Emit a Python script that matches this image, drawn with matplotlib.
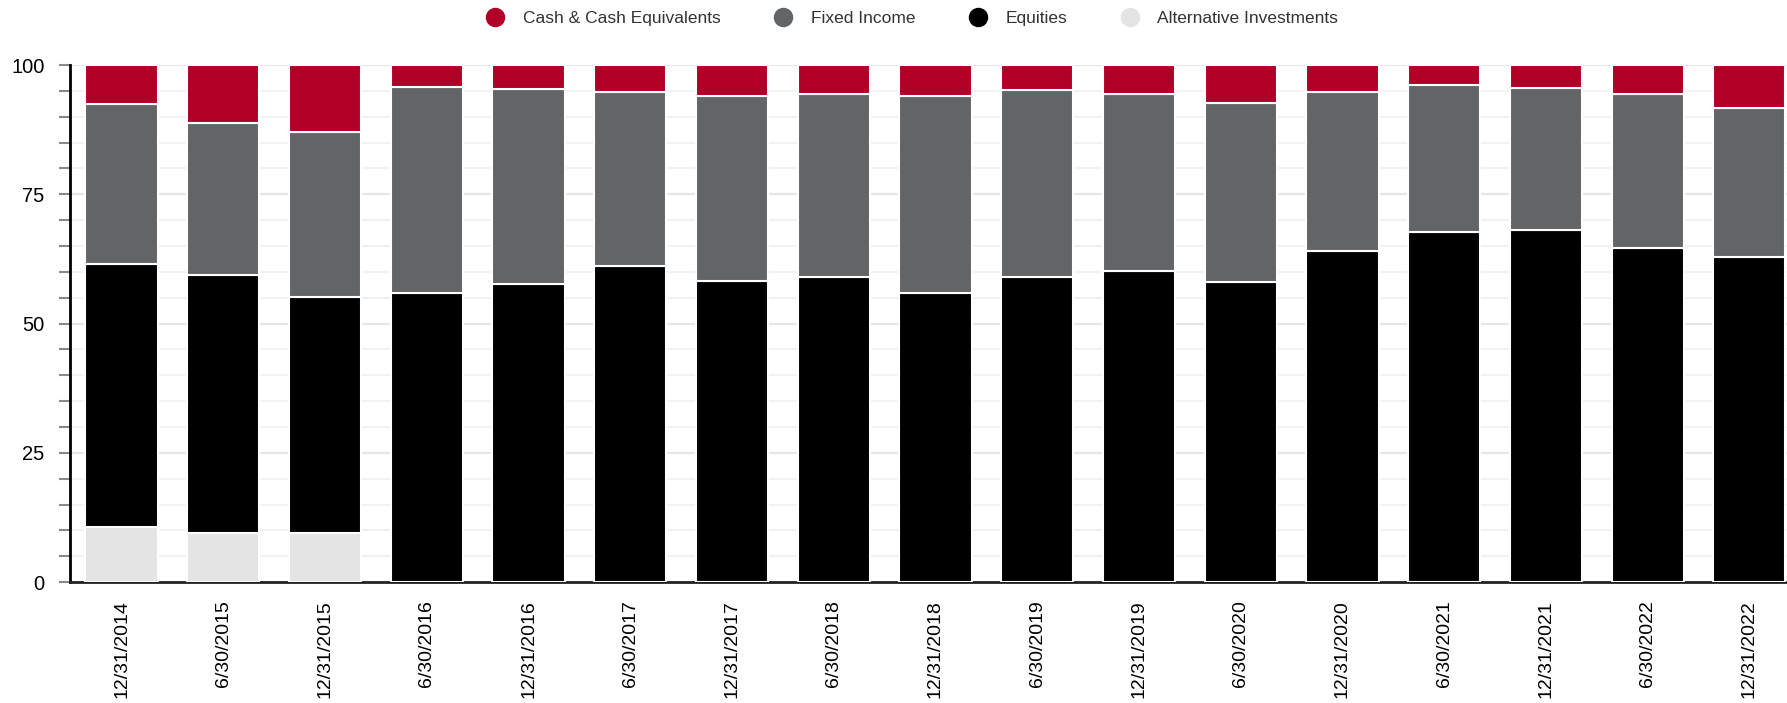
import matplotlib as mpl
mpl.use('Agg')
import matplotlib.pyplot as plt
from matplotlib.lines import Line2D
import numpy as np

mpl.rcParams['font.family'] = ['Liberation Sans', 'DejaVu Sans']

dates = ["12/31/2014", "6/30/2015", "12/31/2015", "6/30/2016", "12/31/2016",
         "6/30/2017", "12/31/2017", "6/30/2018", "12/31/2018", "6/30/2019",
         "12/31/2019", "6/30/2020", "12/31/2020", "6/30/2021", "12/31/2021",
         "6/30/2022", "12/31/2022"]

# cumulative tops
alt_top = [10.6, 9.5, 9.5, 0, 0, 0, 0, 0, 0, 0, 0, 0, 0, 0, 0, 0, 0]
eq_top = [61.6, 59.4, 55.2, 56.0, 57.7, 61.2, 58.3, 59.1, 56.0, 59.1,
          60.2, 58.0, 64.0, 67.8, 68.1, 64.7, 62.9]
fi_top = [92.4, 88.8, 87.1, 95.7, 95.4, 94.8, 94.1, 94.4, 94.0, 95.1,
          94.4, 92.6, 94.8, 96.1, 95.5, 94.4, 91.6]

alt = np.array(alt_top)
equities = np.array(eq_top) - alt
fixed = np.array(fi_top) - np.array(eq_top)
cash = 100 - np.array(fi_top)

names = ["Cash & Cash Equivalents", "Fixed Income", "Equities", "Alternative Investments"]
colors = ["#B00027", "#636466", "#000000", "#E4E4E4"]

fig = plt.figure(figsize=(17.87, 7.03), dpi=100)
ax = fig.add_axes([0.039, 0.172, 0.961, 0.7355])

x = np.arange(len(dates))
w = 0.71
bottom = np.zeros(len(dates))
for vals, c in zip([alt, equities, fixed, cash], colors[::-1]):
    ax.bar(x, vals, w, bottom=bottom, color=c, edgecolor="white", linewidth=1.5, zorder=3)
    bottom += vals

ax.set_xlim(-0.51, 16.37)
ax.set_ylim(0, 100)
ax.set_yticks([0, 25, 50, 75, 100])
ax.set_yticks(np.arange(0, 101, 5), minor=True)
ax.yaxis.grid(True, which='major', color="#E6E6E6", linewidth=1.5, zorder=0)
ax.yaxis.grid(True, which='minor', color="#F2F2F2", linewidth=1.5, zorder=0)
ax.tick_params(axis='y', which='both', length=8, width=1.5, color="#8a8a8a", labelsize=14.5, pad=4)
ax.tick_params(axis='y', which='major', pad=10)
ax.set_xticks(x)
ax.set_xticklabels(dates, rotation=90, fontsize=14)
ax.tick_params(axis='x', length=0, pad=13)

for s in ["top", "right"]:
    ax.spines[s].set_visible(False)
ax.spines["left"].set_linewidth(2)
ax.spines["bottom"].set_linewidth(2)
ax.spines["bottom"].set_color("#222222")

handles = [Line2D([], [], marker='o', linestyle='none', markersize=13,
                  markerfacecolor=c, markeredgecolor=c) for c in colors]
fig.legend(handles, names, loc='center', bbox_to_anchor=(0.508, 0.974), ncol=4,
           frameon=False, fontsize=12.5, handletextpad=0.6, columnspacing=2.6,
           labelcolor="#333333")

plt.savefig("out.png", dpi=100)
